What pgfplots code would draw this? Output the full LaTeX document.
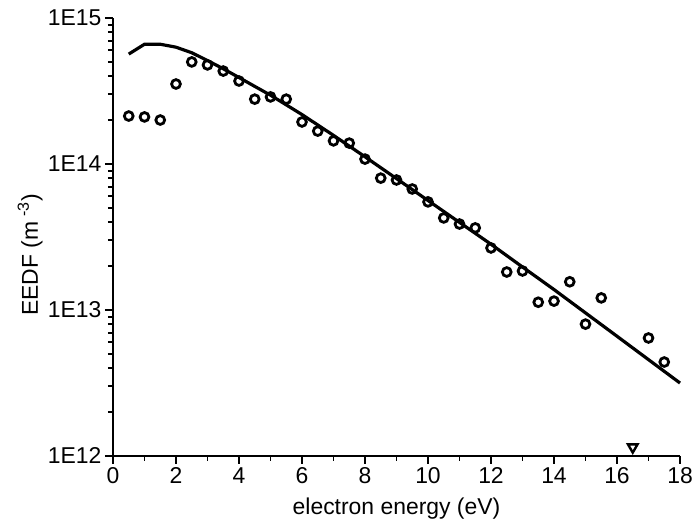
\documentclass[border=0pt]{standalone}
\usepackage{pgfplots}
\pgfplotsset{compat=1.18}
\usepackage{fontspec}
\setmainfont{Liberation Sans}
\newcommand{\chartfont}{\fontsize{23}{27}\selectfont}
\pgfplotsset{
  every tick label/.append style={font=\chartfont},
  every axis label/.append style={font=\chartfont},
}
\begin{document}
\begin{tikzpicture}
\begin{axis}[
    scale only axis,
    width=567bp, height=438bp,
    ymode=log,
    xmin=0, xmax=18,
    ymin=1e12, ymax=1e15,
    axis lines*=left,
    axis line style={line width=2.2pt, -},
    xtick pos=left, ytick pos=left,
    xtick={0,2,...,18},
    ytick={1e12,1e13,1e14,1e15},
    yticklabels={1E12,1E13,1E14,1E15},
    minor xtick={1,3,...,17},
    tick align=outside,
    major tick length=8bp, minor tick length=5bp,
    every tick/.style={black, line width=2pt},
    /pgf/number format/assume math mode=true,
    xlabel={electron energy (eV)},
    ylabel={EEDF (m\textsuperscript{\,\,-3})},
    xlabel style={at={(axis description cs:0.5,-0.119)}, anchor=center},
    ylabel style={at={(axis description cs:-0.146,0.459)}, anchor=center},
    clip=false,
    after end axis/.code={
      \foreach \x in {0,2,...,18}{\draw[line width=2pt] (axis cs:\x,1e12) -- ++(0,-8bp);}
      \foreach \x in {1,3,...,17}{\draw[line width=2pt] (axis cs:\x,1e12) -- ++(0,-5bp);}
      \foreach \e in {12,13,14,15}{\draw[line width=2pt] (axis cs:0,1e\e) -- ++(-8bp,0);}
      \foreach \e in {12,13,14}{\foreach \m in {2,...,9}{\draw[line width=2pt] (axis cs:0,\m e\e) -- ++(-5bp,0);}}
    },
]
% model curve
\addplot[black, line width=3.2pt, no marks] coordinates {
(0.5,5.66e14) (1,6.61e14) (1.5,6.61e14) (2,6.31e14) (2.5,5.78e14)
(3,5.11e14) (3.5,4.49e14) (4,3.91e14) (4.5,3.40e14) (5,2.96e14)
(6,2.18e14) (7,1.57e14) (8,1.12e14) (9,7.94e13) (10,5.62e13)
(11,3.98e13) (12,2.82e13) (13,1.97e13) (14,1.38e13) (15,9.55e12)
(16,6.61e12) (17,4.57e12) (18,3.16e12)
};
% measured
\addplot[only marks, mark=o, mark size=4.4bp, mark options={line width=2.8pt, black, fill=white}] coordinates {
(0.5,2.13e14) (1,2.10e14) (1.5,2.0e14) (2,3.53e14) (2.5,5.0e14)
(3,4.77e14) (3.5,4.33e14) (4,3.70e14) (4.5,2.78e14) (5,2.88e14)
(5.5,2.78e14) (6,1.94e14) (6.5,1.68e14) (7,1.44e14) (7.5,1.39e14)
(8,1.08e14) (8.5,8.0e13) (9,7.77e13) (9.5,6.74e13) (10,5.5e13)
(10.5,4.27e13) (11,3.88e13) (11.5,3.65e13) (12,2.66e13) (12.5,1.82e13)
(13,1.85e13) (13.5,1.13e13) (14,1.15e13) (14.5,1.56e13) (15,8.0e12)
(15.5,1.21e13) (17,6.43e12) (17.5,4.4e12)
};
\addplot[only marks, mark=triangle, mark size=5.5bp, mark options={rotate=180, line width=2.4pt, black}] coordinates {
(16.5,1.15e12)
};
\end{axis}
\pgfresetboundingbox
\path (-113bp,-70bp) rectangle (580bp,456bp);
\end{tikzpicture}
\end{document}
